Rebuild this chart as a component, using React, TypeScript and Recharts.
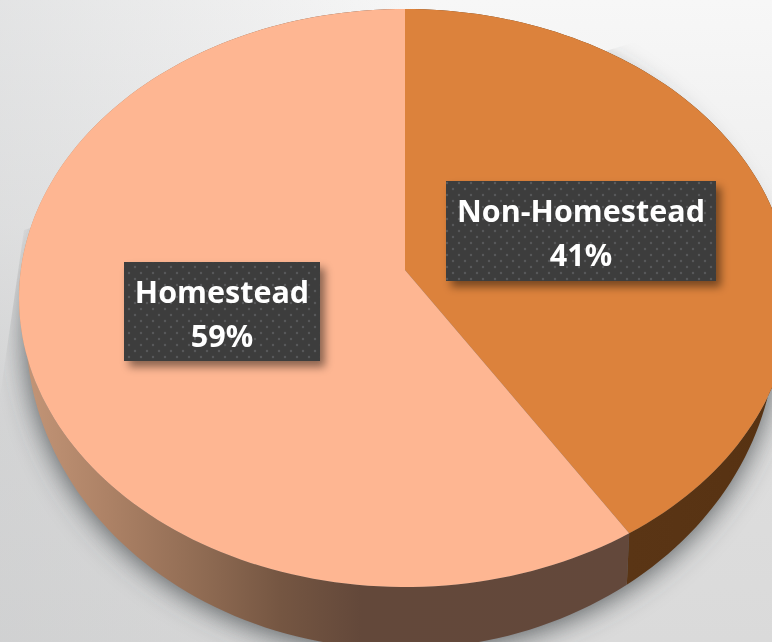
import React from 'react';
import { PieChart, Pie } from 'recharts';

const categories = ['Non-Homestead', 'Homestead'];
const shares = [41, 59];
const faceColors = ['#DC823C', '#FEB692'];
const wallFills = ['url(#wallDark)', 'url(#wallLight)'];

const data = categories.map((name, i) => ({
  name,
  value: shares[i],
  fill: faceColors[i],
  wall: wallFills[i],
}));

const WIDTH = 772;
const HEIGHT = 642;
const CX = 405;
const CY = 298;
const RY = 289;
const X_STRETCH = 386 / 289;
// the tilted disc: its centre is seen above the middle of the ellipse
const TILT = -0.097;

// lower rim of the disc, relative to the top face
const DROP_X = -4;
const DROP_Y = 32;
const LOWER_RX = 375;
const LOWER_RY = 319;
const LOWER_TILT = -0.141;

// the boxes behind the labels, same order as categories
const labelBoxes = [
  { x: 446, y: 181, w: 270, h: 100 },
  { x: 124, y: 262, w: 196, h: 99 },
];

// rim position on a unit circle, angle in degrees clockwise from the top
function rim(theta: number, tilt: number) {
  const t = (theta * Math.PI) / 180;
  const x = Math.sin(t);
  const y = -Math.cos(t);
  const d = 1 + tilt * y;
  return { x: (x * Math.sqrt(1 - tilt * tilt)) / d, y: (y + tilt) / d };
}

function sweep(from: number, to: number) {
  const steps = Math.max(2, Math.ceil(Math.abs(to - from) / 1.5));
  const out: number[] = [];
  for (let i = 0; i <= steps; i++) out.push(from + ((to - from) * i) / steps);
  return out;
}

function lowerRim(angles: number[], cx: number, cy: number) {
  return angles.map((a) => {
    const p = rim(a, LOWER_TILT);
    return `${(cx + DROP_X + p.x * LOWER_RX).toFixed(1)},${(cy + DROP_Y + p.y * LOWER_RY).toFixed(1)}`;
  });
}

function FaceShape(props: any) {
  const { cx, cy, outerRadius, startAngle, endAngle, fill } = props;
  const rx = outerRadius * X_STRETCH;
  const pts = sweep(90 - startAngle, 90 - endAngle).map((a) => {
    const p = rim(a, TILT);
    return `${(cx + p.x * rx).toFixed(1)},${(cy + p.y * outerRadius).toFixed(1)}`;
  });
  const apex = `${cx},${(cy + TILT * outerRadius).toFixed(1)}`;
  return <path d={`M${apex}L${pts.join('L')}Z`} fill={fill} />;
}

function WallShape(props: any) {
  const { cx, cy, outerRadius, startAngle, endAngle } = props;
  const rx = outerRadius * X_STRETCH;
  const angles = sweep(90 - startAngle, 90 - endAngle);
  const upper = angles.map((a) => {
    const p = rim(a, TILT);
    return `${(cx + p.x * rx).toFixed(1)},${(cy + p.y * outerRadius).toFixed(1)}`;
  });
  const lower = lowerRim([...angles].reverse(), cx, cy);
  return <path d={`M${upper.join('L')}L${lower.join('L')}Z`} fill={props.wall ?? props.payload?.wall} />;
}

// one blurred disc under everything, drawn once with the first slice
function ShadowShape(props: any) {
  if (props.startAngle !== 90) return null;
  return (
    <g clipPath="url(#shadowClip)">
      <path
        d={`M${lowerRim(sweep(0, 360), props.cx, props.cy).join('L')}Z`}
        fill="#43484b"
        fillOpacity={0.85}
        transform="translate(0,4)"
        filter="url(#castBlur)"
      />
    </g>
  );
}

function BoxLabel(props: any) {
  const { index, name, value } = props;
  const box = labelBoxes[index];
  const mid = box.x + box.w / 2;
  const textStyle = { fontFamily: '"Open Sans", sans-serif', fontWeight: 700, fontSize: 30.5, fill: '#fff' };
  return (
    <g>
      <rect x={box.x} y={box.y} width={box.w} height={box.h} fill="#3c3c3c" filter="url(#boxShadow)" />
      <rect x={box.x} y={box.y} width={box.w} height={box.h} fill="url(#dots)" />
      <text x={mid} y={box.y + 41} textAnchor="middle" style={textStyle}>{name}</text>
      <text x={mid} y={box.y + 85} textAnchor="middle" style={textStyle}>{`${value}%`}</text>
    </g>
  );
}

const pieBase = {
  data,
  dataKey: 'value',
  nameKey: 'name',
  cx: CX,
  cy: CY,
  outerRadius: RY,
  startAngle: 90,
  endAngle: -270,
  paddingAngle: 0,
  labelLine: false,
};

export default function App() {
  return (
    <div
      style={{
        position: 'absolute',
        left: 0,
        top: 0,
        width: WIDTH,
        height: HEIGHT,
        overflow: 'hidden',
        background:
          'linear-gradient(90deg, rgba(190,192,194,0.35) 0%, rgba(190,192,194,0) 55%), linear-gradient(180deg, #f7f7f7 0%, #eeeeee 35%, #dedede 65%, #dadada 100%)',
      }}
    >
      <div style={{ filter: 'blur(0.4px)' }}>
        <PieChart width={WIDTH} height={HEIGHT} margin={{ top: 0, right: 0, bottom: 0, left: 0 }}>
          <defs>
            <linearGradient id="wallLight" gradientUnits="userSpaceOnUse" x1="20" y1="0" x2="640" y2="0">
              <stop offset="0" stopColor="#c49678" />
              <stop offset="0.14" stopColor="#ad8266" />
              <stop offset="0.3" stopColor="#8e6a52" />
              <stop offset="0.42" stopColor="#755642" />
              <stop offset="0.55" stopColor="#63483a" />
              <stop offset="1" stopColor="#63483b" />
            </linearGradient>
            <linearGradient id="wallDark" gradientUnits="userSpaceOnUse" x1="630" y1="0" x2="772" y2="0">
              <stop offset="0" stopColor="#5a3515" />
              <stop offset="1" stopColor="#573212" />
            </linearGradient>
            <pattern id="dots" width="12" height="12" patternUnits="userSpaceOnUse">
              <circle cx="3" cy="3" r="1.2" fill="#58595b" />
              <circle cx="9" cy="9" r="1.2" fill="#58595b" />
            </pattern>
            <filter id="boxShadow" x="-10%" y="-15%" width="125%" height="135%">
              <feDropShadow dx="5" dy="6" stdDeviation="4" floodColor="#000" floodOpacity="0.45" />
            </filter>
            <filter id="castBlur" x="-15%" y="-15%" width="130%" height="130%">
              <feGaussianBlur stdDeviation="14" />
            </filter>
            <clipPath id="shadowClip">
              <polygon points="0,397 24,230 772,0 772,642 0,642" />
            </clipPath>
          </defs>
          <Pie {...pieBase} shape={ShadowShape} label={false} isAnimationActive={false} />
          <Pie {...pieBase} shape={WallShape} label={false} isAnimationActive={false} />
          <Pie {...pieBase} shape={FaceShape} label={BoxLabel} isAnimationActive={false} />
        </PieChart>
      </div>
    </div>
  );
}
